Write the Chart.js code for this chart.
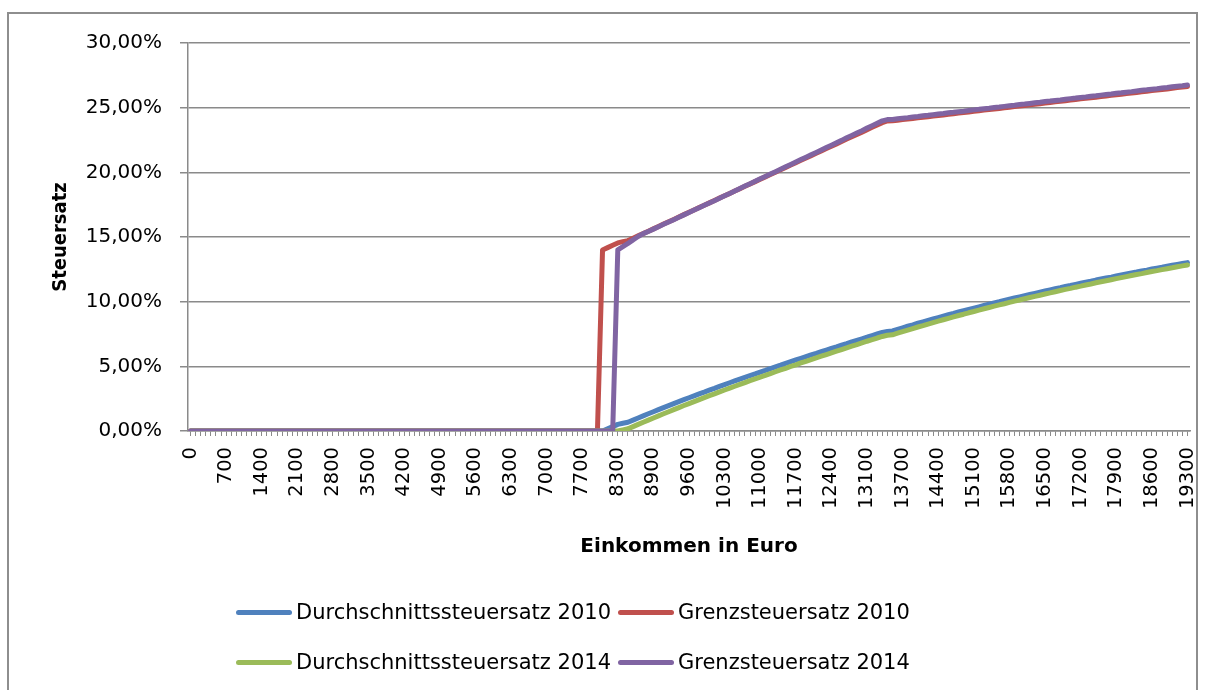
<!DOCTYPE html>
<html>
<head>
<meta charset="utf-8">
<script src="https://cdn.jsdelivr.net/npm/chart.js@4.4.0/dist/chart.umd.min.js"></script>
<style>
html, body { margin: 0; padding: 0; background: #fff; }
#wrap { position: relative; width: 1206px; height: 690px; overflow: hidden; }
#frame { position: absolute; left: 7px; top: 12px; width: 1191px; height: 720px; border: 2px solid #8e8e8e; box-sizing: border-box; }
#myChart { position: absolute; left: 0; top: 0; }
#legend { position: absolute; left: 236px; top: 587px; font-family: 'DejaVu Sans', sans-serif; font-size: 21px; color: #000; }
.row { height: 50px; display: flex; align-items: center; white-space: nowrap; }
.item { display: flex; align-items: center; }
.item.first { width: 382px; }
.sw { width: 56px; height: 5px; border-radius: 3px; margin-right: 4px; }
</style>
</head>
<body>
<div id="wrap">
  <div id="frame"></div>
  <canvas id="myChart" width="1206" height="690"></canvas>
  <div id="legend"></div>
</div>
<script>
// Einkommen (Kategorien der x-Achse)
var categories = [
  0,100,200,300,400,500,600,700,800,900,
  1000,1100,1200,1300,1400,1500,1600,1700,1800,1900,
  2000,2100,2200,2300,2400,2500,2600,2700,2800,2900,
  3000,3100,3200,3300,3400,3500,3600,3700,3800,3900,
  4000,4100,4200,4300,4400,4500,4600,4700,4800,4900,
  5000,5100,5200,5300,5400,5500,5600,5700,5800,5900,
  6000,6100,6200,6300,6400,6500,6600,6700,6800,6900,
  7000,7100,7200,7300,7400,7500,7600,7700,7800,7900,
  8000,8004,8100,8200,8300,8354,8400,8500,8600,8700,
  8800,8900,9000,9100,9200,9300,9400,9500,9600,9700,
  9800,9900,10000,10100,10200,10300,10400,10500,10600,10700,
  10800,10900,11000,11100,11200,11300,11400,11500,11600,11700,
  11800,11900,12000,12100,12200,12300,12400,12500,12600,12700,
  12800,12900,13000,13100,13200,13300,13400,13469,13500,13600,
  13700,13800,13900,14000,14100,14200,14300,14400,14500,14600,
  14700,14800,14900,15000,15100,15200,15300,15400,15500,15600,
  15700,15800,15900,16000,16100,16200,16300,16400,16500,16600,
  16700,16800,16900,17000,17100,17200,17300,17400,17500,17600,
  17700,17800,17900,18000,18100,18200,18300,18400,18500,18600,
  18700,18800,18900,19000,19100,19200,19300
];

// beschriftete Kategorien
var xTickLabels = ['0','700','1400','2100','2800','3500','4200','4900','5600','6300','7000','7700',
  '8300','8900','9600','10300','11000','11700','12400','13100','13700','14400','15100','15800',
  '16500','17200','17900','18600','19300'];

// Steuersaetze in Prozent
var avgRate2010 = [
  0,0,0,0,0,0,0,0,0,0, 0,0,0,0,0,0,0,0,0,0, 0,0,0,0,0,0,0,0,0,0, 0,0,0,0,0,0,0,0,0,0,
  0,0,0,0,0,0,0,0,0,0, 0,0,0,0,0,0,0,0,0,0, 0,0,0,0,0,0,0,0,0,0, 0,0,0,0,0,0,0,0,0,0,
  0,0,0.17,0.34,0.51,0.60,0.68,0.84,1.01,1.17,
  1.33,1.49,1.65,1.81,1.96,2.12,2.27,2.42,2.57,2.72,
  2.87,3.01,3.16,3.30,3.45,3.59,3.73,3.87,4.01,4.15,
  4.29,4.42,4.56,4.69,4.83,4.96,5.09,5.23,5.36,5.49,
  5.62,5.75,5.88,6.00,6.13,6.26,6.39,6.51,6.64,6.76,
  6.89,7.01,7.13,7.25,7.38,7.50,7.62,7.70,7.74,7.86,
  7.98,8.10,8.21,8.33,8.44,8.55,8.66,8.77,8.88,8.99,
  9.09,9.20,9.30,9.40,9.50,9.60,9.70,9.80,9.90,9.99,
  10.09,10.19,10.28,10.37,10.46,10.55,10.64,10.73,10.82,10.91,
  11.00,11.08,11.17,11.25,11.34,11.42,11.50,11.58,11.67,11.75,
  11.83,11.90,11.98,12.06,12.14,12.22,12.29,12.37,12.44,12.52,
  12.59,12.66,12.74,12.81,12.88,12.95,13.02
];

var margRate2010 = [
  0,0,0,0,0,0,0,0,0,0, 0,0,0,0,0,0,0,0,0,0, 0,0,0,0,0,0,0,0,0,0, 0,0,0,0,0,0,0,0,0,0,
  0,0,0,0,0,0,0,0,0,0, 0,0,0,0,0,0,0,0,0,0, 0,0,0,0,0,0,0,0,0,0, 0,0,0,0,0,0,0,0,0,0,
  0,14.00,14.18,14.36,14.54,14.64,14.72,14.90,15.09,15.27,
  15.45,15.63,15.82,16.00,16.18,16.36,16.55,16.73,16.91,17.09,
  17.28,17.46,17.64,17.82,18.01,18.19,18.37,18.55,18.74,18.92,
  19.10,19.28,19.47,19.65,19.83,20.01,20.20,20.38,20.56,20.74,
  20.93,21.11,21.29,21.47,21.65,21.84,22.02,22.20,22.38,22.57,
  22.75,22.93,23.11,23.30,23.48,23.66,23.84,23.97,23.98,24.03,
  24.08,24.12,24.17,24.21,24.26,24.30,24.35,24.40,24.44,24.49,
  24.53,24.58,24.62,24.67,24.72,24.76,24.81,24.85,24.90,24.94,
  24.99,25.04,25.08,25.13,25.17,25.22,25.27,25.31,25.36,25.40,
  25.45,25.49,25.54,25.59,25.63,25.68,25.72,25.77,25.81,25.86,
  25.91,25.95,26.00,26.04,26.09,26.13,26.18,26.23,26.27,26.32,
  26.36,26.41,26.45,26.50,26.55,26.59,26.64
];

var avgRate2014 = [
  0,0,0,0,0,0,0,0,0,0, 0,0,0,0,0,0,0,0,0,0, 0,0,0,0,0,0,0,0,0,0, 0,0,0,0,0,0,0,0,0,0,
  0,0,0,0,0,0,0,0,0,0, 0,0,0,0,0,0,0,0,0,0, 0,0,0,0,0,0,0,0,0,0, 0,0,0,0,0,0,0,0,0,0,
  0,0,0,0,0,0.09,0.17,0.34,0.51,0.68,
  0.84,1.01,1.17,1.33,1.49,1.65,1.81,1.97,2.12,2.27,
  2.43,2.58,2.73,2.87,3.02,3.17,3.31,3.46,3.60,3.74,
  3.89,4.03,4.17,4.30,4.44,4.58,4.72,4.85,4.99,5.12,
  5.26,5.39,5.52,5.65,5.78,5.91,6.04,6.17,6.30,6.43,
  6.56,6.68,6.81,6.94,7.06,7.19,7.31,7.40,7.44,7.56,
  7.68,7.80,7.92,8.04,8.15,8.27,8.38,8.49,8.60,8.71,
  8.82,8.93,9.03,9.14,9.24,9.35,9.45,9.55,9.65,9.75,
  9.84,9.94,10.04,10.13,10.23,10.32,10.41,10.50,10.59,10.68,
  10.77,10.86,10.95,11.03,11.12,11.20,11.29,11.37,11.46,11.54,
  11.62,11.70,11.78,11.86,11.94,12.02,12.10,12.17,12.25,12.33,
  12.40,12.48,12.55,12.62,12.70,12.77,12.84
];

var margRate2014 = [
  0,0,0,0,0,0,0,0,0,0, 0,0,0,0,0,0,0,0,0,0, 0,0,0,0,0,0,0,0,0,0, 0,0,0,0,0,0,0,0,0,0,
  0,0,0,0,0,0,0,0,0,0, 0,0,0,0,0,0,0,0,0,0, 0,0,0,0,0,0,0,0,0,0, 0,0,0,0,0,0,0,0,0,0,
  0,0,0,0,14.00,14.25,14.50,14.78,15.04,15.26,
  15.43,15.61,15.80,15.98,16.16,16.34,16.53,16.71,16.89,17.08,
  17.27,17.45,17.63,17.81,18.00,18.19,18.37,18.56,18.75,18.94,
  19.12,19.31,19.50,19.68,19.87,20.05,20.24,20.43,20.61,20.80,
  20.99,21.17,21.36,21.54,21.73,21.92,22.10,22.29,22.47,22.67,
  22.85,23.04,23.22,23.42,23.60,23.79,23.98,24.08,24.09,24.14,
  24.19,24.23,24.28,24.32,24.37,24.41,24.46,24.51,24.55,24.60,
  24.64,24.69,24.73,24.78,24.83,24.87,24.92,24.96,25.01,25.05,
  25.10,25.15,25.19,25.24,25.28,25.33,25.38,25.42,25.47,25.51,
  25.56,25.60,25.65,25.70,25.74,25.79,25.83,25.88,25.92,25.97,
  26.02,26.06,26.11,26.15,26.20,26.24,26.29,26.34,26.38,26.43,
  26.47,26.52,26.56,26.61,26.66,26.70,26.75
];

Chart.defaults.font.family = "'DejaVu Sans', sans-serif";
Chart.defaults.color = '#000';

var axisGray = '#8a8a8a';

function lineSet(label, data, color, order) {
  return {
    label: label,
    data: data,
    borderColor: color,
    backgroundColor: color,
    borderWidth: 5,
    borderJoinStyle: 'round',
    borderCapStyle: 'round',
    pointRadius: 0,
    pointHoverRadius: 0,
    tension: 0,
    fill: false,
    order: order
  };
}

var ctx = document.getElementById('myChart').getContext('2d');

window.chart = new Chart(ctx, {
  type: 'line',
  data: {
    labels: categories,
    datasets: [
      lineSet('Durchschnittssteuersatz 2010', avgRate2010, '#4F81BD', 4),
      lineSet('Grenzsteuersatz 2010', margRate2010, '#C0504D', 3),
      lineSet('Durchschnittssteuersatz 2014', avgRate2014, '#9BBB59', 2),
      lineSet('Grenzsteuersatz 2014', margRate2014, '#8064A2', 1)
    ]
  },
  options: {
    responsive: false,
    animation: false,
    layout: { padding: { left: 46, top: 43, right: 16, bottom: 131 } },
    plugins: {
      legend: { display: false },
      tooltip: { enabled: false }
    },
    scales: {
      x: {
        type: 'category',
        offset: true,
        grid: { drawOnChartArea: false, drawTicks: true, tickLength: 5, color: axisGray, lineWidth: 1 },
        border: { display: true, color: axisGray, width: 1.5 },
        ticks: {
          autoSkip: false,
          minRotation: 90,
          maxRotation: 90,
          padding: 11,
          font: { size: 19.5 },
          callback: function (value, index) {
            var lbl = String(categories[index]);
            return xTickLabels.indexOf(lbl) >= 0 ? lbl : '';
          }
        },
        title: {
          display: true,
          text: 'Einkommen in Euro',
          font: { size: 20, weight: 'bold' },
          padding: 0
        },
        afterFit: function (scale) {
          scale.height = 128;
          scale.paddingLeft = 0;
          scale.paddingRight = 0;
        }
      },
      y: {
        min: 0,
        max: 30,
        grid: { color: axisGray, lineWidth: 1.5, tickLength: 8 },
        border: { display: true, color: axisGray, width: 1.5 },
        ticks: {
          stepSize: 5,
          padding: 18,
          font: { size: 20 },
          callback: function (v) { return v.toFixed(2).replace('.', ',') + '%'; }
        },
        title: {
          display: true,
          text: 'Steuersatz',
          font: { family: "'DejaVu Sans Condensed', 'DejaVu Sans', sans-serif", size: 20, weight: 'bold' },
          padding: { top: 3, bottom: 0 }
        },
        afterFit: function (scale) { scale.width = 142; }
      }
    }
  }
});

// Legende in zwei Zeilen wie im Original
var legend = document.getElementById('legend');
var ds = window.chart.data.datasets;
for (var r = 0; r < 2; r++) {
  var row = document.createElement('div');
  row.className = 'row';
  for (var c = 0; c < 2; c++) {
    var d = ds[r * 2 + c];
    var item = document.createElement('div');
    item.className = c === 0 ? 'item first' : 'item';
    var sw = document.createElement('span');
    sw.className = 'sw';
    sw.style.background = d.borderColor;
    var txt = document.createElement('span');
    txt.textContent = d.label;
    item.appendChild(sw);
    item.appendChild(txt);
    row.appendChild(item);
  }
  legend.appendChild(row);
}
</script>
</body>
</html>
